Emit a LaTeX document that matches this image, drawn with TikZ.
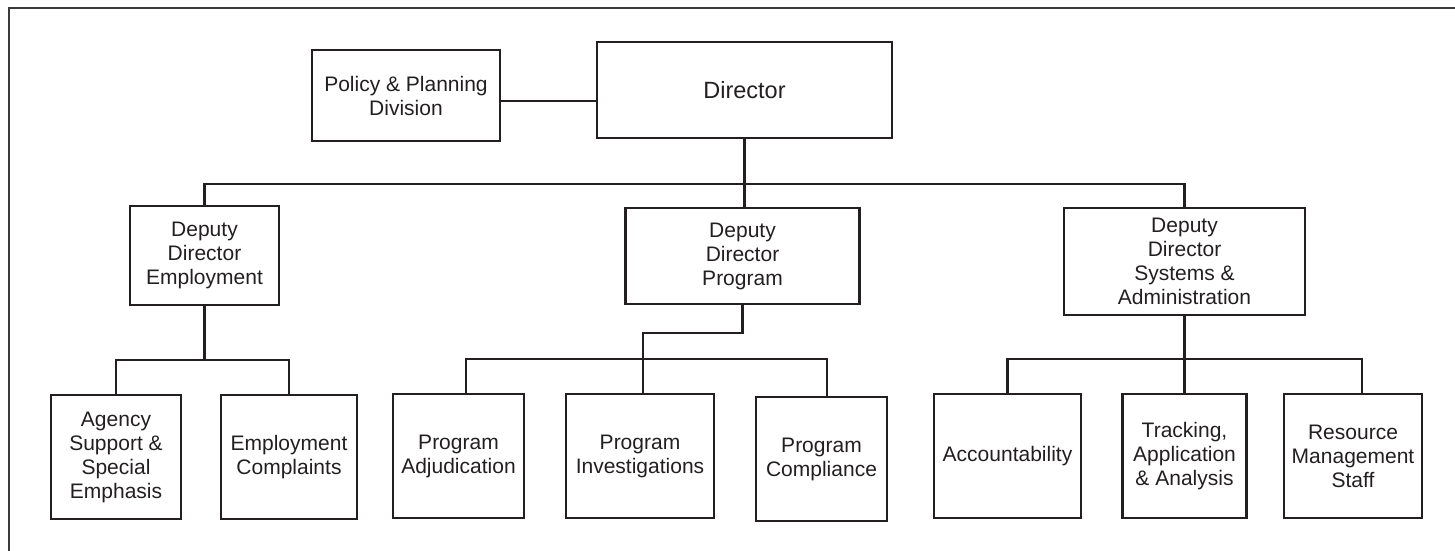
\documentclass[tikz,border=0pt]{standalone}
\usepackage{fontspec}
\setmainfont{Liberation Sans}
\definecolor{ink}{HTML}{231F20}
\definecolor{framecol}{HTML}{3A3A3A}
\tikzset{
  orgbox/.style={draw=ink, line width=2.6pt, inner sep=0pt, align=center, text=ink,
    font=\fontsize{21}{24}\selectfont},
  link/.style={draw=ink, line width=2.3pt},
  frameline/.style={draw=framecol, line width=2pt}
}
\begin{document}
\begin{tikzpicture}[x=1pt,y=-1pt]
\useasboundingbox (0,0) rectangle (1455,550);
\coordinate (fbl) at (8.5,560);
\coordinate (ftl) at (8.5,7.5);
\coordinate (ftr) at (1470,7.5);
\draw[frameline] (fbl) -- (ftl) -- (ftr);

% top level
\node[orgbox, minimum width=188pt, minimum height=91pt] (pol) at (406,95.5) {Policy \& Planning\\Division};
\node[orgbox, minimum width=295pt, minimum height=96pt, font=\fontsize{23.5}{26}\selectfont] (dir) at (744.5,90) {Director};

% deputies
\node[orgbox, minimum width=149pt, minimum height=99pt] (dde) at (204.5,255.5) {Deputy\\Director\\Employment};
\node[orgbox, minimum width=234pt, minimum height=96pt] (ddp) at (742.5,256) {Deputy\\Director\\Program};
\node[orgbox, minimum width=241pt, minimum height=107pt] (dds) at (1184.5,261.5) {Deputy\\Director\\Systems \&\\Administration};

% units
\node[orgbox, minimum width=130pt, minimum height=124pt] (ags) at (116,457) {Agency\\Support \&\\Special\\Emphasis};
\node[orgbox, minimum width=136pt, minimum height=124pt] (emc) at (289,457) {Employment\\Complaints};
\node[orgbox, minimum width=131pt, minimum height=124pt] (pad) at (458.5,456) {Program\\Adjudication};
\node[orgbox, minimum width=148pt, minimum height=124pt] (pin) at (640,456) {Program\\Investigations};
\node[orgbox, minimum width=131pt, minimum height=124pt] (pco) at (821.5,459) {Program\\Compliance};
\node[orgbox, minimum width=147pt, minimum height=124pt] (acc) at (1007.5,456) {Accountability};
\node[orgbox, minimum width=124pt, minimum height=124pt] (tra) at (1184.5,456) {Tracking,\\Application\\\& Analysis};
\node[orgbox, minimum width=138pt, minimum height=124pt] (res) at (1353,456) {Resource\\Management\\Staff};

% connectors
\draw[link] (pol.east |- 0,101) -- (dir.west |- 0,101);
\draw[link] (dir.south) -- (dir.south |- ddp.north);
\draw[link] (dde.north) |- (dds.north |- 0,184) -- (dds.north);

\draw[link] (dde.south) -- (dde.south |- 0,360);
\draw[link] (ags.north) |- (emc.north |- 0,360) -- (emc.north);

\draw[link] (ddp.south) |- (643,333) -- (pin.north -| 643,0);
\draw[link] (pad.north -| 466,0) -- (466,359) -- (827,359) -- (pco.north -| 827,0);

\draw[link] (dds.south) -- (tra.north);
\draw[link] (acc.north) |- (1362,359) -- (res.north -| 1362,0);
\end{tikzpicture}
\end{document}
